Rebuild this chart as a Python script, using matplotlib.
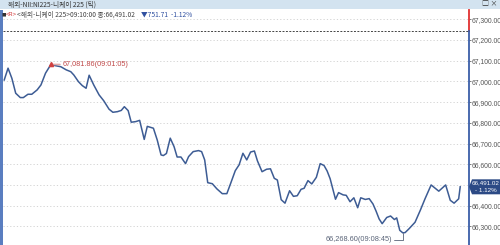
import matplotlib.pyplot as plt
from matplotlib.patches import Rectangle, Polygon
from matplotlib.transforms import blended_transform_factory, ScaledTranslation

plt.rcParams['font.family'] = ['Noto Sans CJK KR', 'DejaVu Sans']
NUM_FONT = ['Liberation Sans Narrow', 'Liberation Sans', 'DejaVu Sans']

# tick data: seconds after 09:00:00 and price
times = [4, 9, 14, 19, 25, 29, 35, 40, 47, 52,
         58, 65, 71, 78, 85, 91, 95, 101, 106, 111,
         115, 121, 128, 134, 141, 146, 152, 157, 161, 166,
         170, 176, 181, 187, 191, 199, 204, 209, 212, 216,
         221, 226, 230, 235, 241, 245, 251, 258, 262, 266,
         270, 276, 282, 289, 295, 300, 306, 311, 316, 321,
         326, 331, 335, 341, 347, 352, 357, 361, 366, 371,
         377, 382, 387, 392, 396, 401, 406, 412, 417, 422,
         426, 430, 437, 441, 447, 451, 456, 461, 466, 470,
         476, 481, 486, 490, 494, 498, 504, 509, 514, 517,
         521, 525, 528, 533, 541, 548, 554, 562, 572, 581,
         587, 592, 598, 600]
prices = [67007, 67064, 67015, 66943, 66922, 66922, 66938, 66938, 66959, 66983,
          67040, 67081.86, 67076, 67071, 67056, 67047, 67031, 66999, 66980, 66967,
          67030, 66983, 66935, 66907, 66866, 66851, 66854, 66860, 66878, 66859,
          66803, 66806, 66812, 66720, 66783, 66774, 66717, 66645, 66642, 66652,
          66726, 66685, 66635, 66635, 66603, 66637, 66661, 66666, 66661, 66621,
          66511, 66506, 66481, 66458, 66458, 66508, 66569, 66597, 66653, 66621,
          66659, 66664, 66616, 66564, 66576, 66578, 66532, 66524, 66429, 66412,
          66472, 66445, 66448, 66479, 66484, 66521, 66505, 66537, 66603, 66594,
          66568, 66530, 66431, 66463, 66452, 66450, 66419, 66438, 66390, 66438,
          66430, 66434, 66408, 66374, 66336, 66313, 66343, 66350, 66333, 66341,
          66281, 66268.60, 66270, 66288, 66320, 66379, 66433, 66500, 66470, 66500,
          66426, 66412, 66433, 66491.02]
prev_close = 67242.73
change = -751.71
change_pct = -1.12
yticks = [66300, 66400, 66500, 66600, 66700, 66800, 66900, 67000, 67100, 67200, 67300]

title = '해외-NII:NI225-니케이 225 (틱)'
info = '<해외-니케이 225>09:10:00 종:66,491.02'


def hms(sec):
    return '09:%02d:%02d' % (sec // 60, sec % 60)


fig = plt.figure(figsize=(5, 2.45), dpi=100)
ax = fig.add_axes([3 / 500, 0, 466 / 500, 235 / 245])
ax.plot(times, prices, color='#3d5c94', lw=1.1, zorder=3)
ax.set_xlim(2.4, 611.5)
ax.set_ylim(66210, 67345)
ax.set_xticks([])
ax.yaxis.tick_right()
ax.set_yticks(yticks)
ax.set_yticklabels(['{:,.2f}'.format(v) for v in yticks], fontsize=4.9, color='#555555',
                   family=NUM_FONT)
ax.tick_params(axis='y', length=1.5, width=0.6, color='#666666', pad=0.5)
for s in ax.spines.values():
    s.set_visible(False)
ax.grid(axis='y', color='#cfcfcf', linestyle=(0, (1.5, 2.5)), lw=0.6)
ax.axhline(prev_close, color='#444444', ls=(0, (2, 1.5)), lw=0.7)

# right axis line: red above previous close, blue below
trans = blended_transform_factory(ax.transAxes, ax.transData)
ax.plot([1, 1], [prev_close, 67345], transform=trans, color='#e03030', lw=1.3, clip_on=False)
ax.plot([1, 1], [66210, prev_close], transform=trans, color='#3a5ea8', lw=1.3, clip_on=False)

# high / low labels
i_max = prices.index(max(prices))
i_min = prices.index(min(prices))
ax.plot(times[i_max], prices[i_max], marker='^', color='#d04040', ms=3, zorder=4)
ax.annotate('{:,.2f}({})'.format(prices[i_max], hms(times[i_max])),
            xy=(times[i_max], prices[i_max]), xytext=(8.5, 0), textcoords='offset points',
            fontsize=5.2, color='#c04848', va='center', ha='left', family=NUM_FONT,
            arrowprops=dict(arrowstyle='-', color='#e0a8a8', lw=1.2, shrinkA=0, shrinkB=1))
ax.annotate('{:,.2f}({})'.format(prices[i_min], hms(times[i_min])),
            xy=(times[i_min], prices[i_min]), xytext=(-8, -5), textcoords='offset points',
            fontsize=5.3, color='#5a6478', va='center', ha='right', family=NUM_FONT,
            arrowprops=dict(arrowstyle='-', color='#5a6478', lw=0.6, shrinkA=0, shrinkB=0,
                            connectionstyle='angle,angleA=0,angleB=90,rad=0'),
            annotation_clip=False)

# current value box on the axis
tr = fig.dpi_scale_trans + ScaledTranslation(1.0, prices[-1], trans)
box = Polygon([(0, 0), (0.03, 0.075), (0.31, 0.075), (0.31, -0.075), (0.03, -0.075)],
              closed=True, transform=tr, fc='#2c4a85', ec='none', clip_on=False, zorder=5)
ax.add_artist(box)
ax.text(0.17, 0.037, '{:,.2f}'.format(prices[-1]), transform=tr, color='white', fontsize=4.5,
        ha='center', va='center', zorder=6, family=NUM_FONT)
ax.text(0.17, -0.037, '- {:.2f}%'.format(abs(change_pct)), transform=tr, color='white',
        fontsize=4.5, ha='center', va='center', zorder=6, family=NUM_FONT)

# frame decorations
fig.add_artist(Rectangle((0, 0), 2.5 / 500, 235 / 245, transform=fig.transFigure,
                         color='#5a7ec0', lw=0))
fig.add_artist(Rectangle((0, 236 / 245), 1, 9 / 245, transform=fig.transFigure,
                         color='#d3e3f0', lw=0))
fig.text(8 / 500, 1 - 4.5 / 245, title, fontsize=4.8, color='#333333', va='center', ha='left')
fig.text(497 / 500, 1 - 4.5 / 245, '□ ×', fontsize=5, color='#333333', va='center', ha='right')
fig.text(2 / 500, 1 - 15 / 245, '■', fontsize=3.2, color='#333333', va='center', ha='left')
fig.text(6 / 500, 1 - 15 / 245, '<R>', fontsize=4.2, color='#d03030', va='center', ha='left',
         family=NUM_FONT)
fig.text(17 / 500, 1 - 15 / 245, info, fontsize=4.8, color='#444444', va='center', ha='left')
fig.text(141 / 500, 1 - 15 / 245, '▼{:.2f}  {:.2f}%'.format(abs(change), change_pct),
         fontsize=4.8, color='#3050a0', va='center', ha='left')

fig.savefig('out.png', dpi=100)
